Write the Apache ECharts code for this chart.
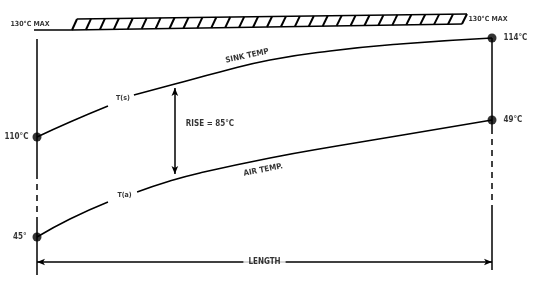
<!DOCTYPE html>
<html><head><meta charset="utf-8">
<script src="https://cdn.jsdelivr.net/npm/echarts@6/dist/echarts.min.js"></script>
<style>html,body{margin:0;padding:0;background:#fff}#c{width:537px;height:284px}</style>
</head><body><div id="c"></div>
<script>
// Schematic data: x = position along the length (%), level = schematic vertical height
const sinkX     = [0, 7.25, 15.6, 21.3, 30.3, 40.2, 51.2, 64.4, 79.8, 100];
const sinkLevel = [138, 153, 169, 180, 191, 203, 215, 224, 231, 237];
const airX      = [0, 7.25, 15.6, 22.0, 29.2, 35.8, 51.2, 65.9, 80.4, 100];
const airLevel  = [38, 56, 73, 83, 94, 102, 117, 129, 140, 155];
const gapIndex  = 3;                         // curve is broken before this point for the T(s)/T(a) tag
const endLabels = ['110°C', '114°C', '45°', '49°C'];
const tagLabels = ['T(s)', 'T(a)'];
const curveLabels = ['SINK TEMP', 'AIR TEMP.'];
const maxBand   = [[7.7, 256, 245], [93.4, 261, 251]];   // [x, top level, bottom level]
const maxLabel  = '130°C MAX';
const riseLabel = 'RISE = 85°C';
const riseX     = 30.3;
const riseSpan  = [187, 101];
const lengthLabel = 'LENGTH';
const lengthLevel = 13;
const leftGuide  = [236, 102, 57, 0];        // solid / dashed / solid breaks
const rightGuide = [237, 147, 70, 5];

const FONT = '"DejaVu Sans Condensed","DejaVu Sans",sans-serif';
const chart = echarts.init(document.getElementById('c'), null, {renderer: 'canvas'});
const pts = (xs, ys, a, b) => { const r = []; for (let i = a; i < b; i++) r.push([xs[i], ys[i]]); return r; };
const txt = (fs) => ({color: '#000', fontFamily: FONT, fontWeight: 'bold', fontSize: fs});
const curve = (data) => ({type: 'line', data, symbol: 'none', smooth: 0.5, silent: true, animation: false, z: 3,
  lineStyle: {color: '#000', width: 1.5}});
const guide = (x, a, b, dashed) => ({type: 'line', data: [[x, a], [x, b]], symbol: 'none', silent: true, animation: false, z: 2,
  lineStyle: {color: '#000', width: 1.5, type: dashed ? [6, 5] : 'solid'}});
const tp = (coord, text, lab) => ({value: coord, label: Object.assign({show: true, formatter: text}, txt(8), lab || {})});

const n = sinkX.length;
const series = [
  curve(pts(sinkX, sinkLevel, 0, gapIndex)),
  curve(pts(sinkX, sinkLevel, gapIndex, n)),
  curve(pts(airX, airLevel, 0, gapIndex)),
  curve(pts(airX, airLevel, gapIndex, n)),
  guide(0, leftGuide[0], leftGuide[1], false),
  guide(0, leftGuide[1], leftGuide[2], true),
  guide(0, leftGuide[2], leftGuide[3], false),
  guide(100, rightGuide[0], rightGuide[1], false),
  guide(100, rightGuide[1], rightGuide[2], true),
  guide(100, rightGuide[2], rightGuide[3], false),
  {
    type: 'custom', silent: true, animation: false, clip: false, z: 2,
    data: maxBand,
    renderItem(params, api) {
      if (params.dataIndex !== 0) return null;
      const [x0, t0, b0] = maxBand[0], [x1, t1, b1] = maxBand[1];
      const TL = api.coord([x0, t0]), TR = api.coord([x1, t1]);
      const BL = api.coord([x0, b0]), BR = api.coord([x1, b1]);
      const U0 = api.coord([0, b0]);
      const st = {stroke: '#000', lineWidth: 1.5, fill: null};
      const children = [
        {type: 'line', shape: {x1: TL[0] + 5, y1: TL[1], x2: TR[0] + 5, y2: TR[1]}, style: st},
        {type: 'polyline', shape: {points: [[U0[0] - 3, U0[1]], BL, BR]}, style: st}
      ];
      const m = Math.round((BR[0] - BL[0]) / 14);
      for (let i = 0; i <= m; i++) {
        const f = i / m;
        const xb = BL[0] + (BR[0] - BL[0]) * f, yb = BL[1] + (BR[1] - BL[1]) * f;
        const xt = xb + 5, yt = TL[1] + (TR[1] - TL[1]) * f;
        children.push({type: 'line', shape: {x1: xb, y1: yb, x2: xt, y2: yt}, style: {stroke: '#000', lineWidth: 2}});
      }
      return {type: 'group', children};
    }
  },
  {
    type: 'line', data: [], silent: true, animation: false, z: 3,
    markLine: {
      silent: true, animation: false, symbol: ['arrow', 'arrow'], symbolSize: [5, 8], label: {show: false},
      lineStyle: {color: '#000', width: 1.5, type: 'solid'},
      data: [
        [{coord: [riseX, riseSpan[0]]}, {coord: [riseX, riseSpan[1]]}],
        [{coord: [0, lengthLevel]}, {coord: [100, lengthLevel]}]
      ]
    }
  },
  {
    type: 'scatter', silent: true, animation: false, z: 5, symbolSize: 9,
    itemStyle: {color: '#000'},
    data: [
      tp([sinkX[0], sinkLevel[0]], endLabels[0], {position: 'left', distance: 4}),
      tp([sinkX[n - 1], sinkLevel[n - 1]], endLabels[1], {position: 'right', distance: 7}),
      tp([airX[0], airLevel[0]], endLabels[2], {position: 'left', distance: 6}),
      tp([airX[n - 1], airLevel[n - 1]], endLabels[3], {position: 'right', distance: 7})
    ]
  },
  {
    type: 'scatter', silent: true, animation: false, z: 6, symbolSize: 1, clip: false,
    itemStyle: {color: 'rgba(0,0,0,0)'},
    data: [
      tp([(sinkX[gapIndex - 1] + sinkX[gapIndex]) / 2, (sinkLevel[gapIndex - 1] + sinkLevel[gapIndex]) / 2], tagLabels[0], {position: 'inside', offset: [2, -2], fontSize: 7}),
      tp([(airX[gapIndex - 1] + airX[gapIndex]) / 2, (airLevel[gapIndex - 1] + airLevel[gapIndex]) / 2], tagLabels[1], {position: 'inside', offset: [2, -2], fontSize: 7}),
      tp([46.2, 219], curveLabels[0], {position: 'inside', rotate: 12}),
      tp([49.7, 105], curveLabels[1], {position: 'inside', rotate: 11}),
      tp([32.6, 151], riseLabel, {position: 'right', distance: 0}),
      tp([0, maxBand[0][2]], maxLabel, {position: 'top', distance: 2, offset: [-7, 0], fontSize: 7}),
      tp([maxBand[1][0], (maxBand[1][1] + maxBand[1][2]) / 2], maxLabel, {position: 'right', distance: 6, fontSize: 7}),
      tp([50, lengthLevel], lengthLabel, {position: 'inside', backgroundColor: '#fff', padding: [0, 5]})
    ]
  }
];

chart.setOption({
  animation: false,
  backgroundColor: '#fff',
  grid: {left: 37, right: 45, top: 10, bottom: 9, containLabel: false},
  xAxis: {type: 'value', min: 0, max: 100, show: false},
  yAxis: {type: 'value', min: 0, max: 265, show: false},
  series
});
</script></body></html>
